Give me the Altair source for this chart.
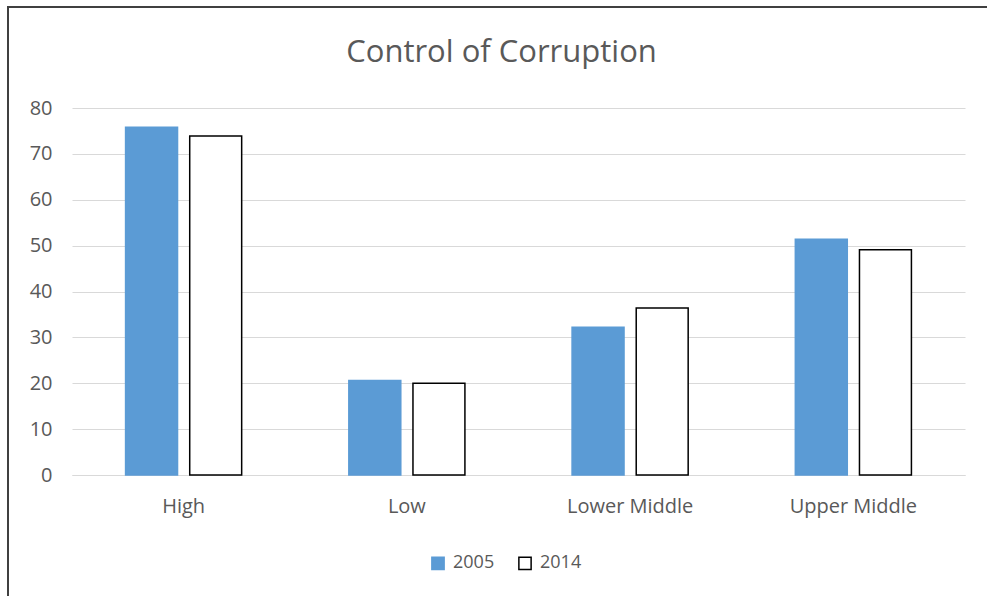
import altair as alt
import pandas as pd

categories = ["High", "Low", "Lower Middle", "Upper Middle"]
years = ["2005", "2014"]
values_2005 = [75.8, 20.6, 32.2, 51.4]
values_2014 = [73.9, 20.0, 36.4, 49.1]

rows = []
for cat, a, b in zip(categories, values_2005, values_2014):
    rows.append({"group": cat, "year": "2005", "value": a})
    rows.append({"group": cat, "year": "2014", "value": b})
df = pd.DataFrame(rows)

FONT = "Open Sans"
TEXT = "#595959"

W, H = 893, 367
LEFT, TOP = 72, 108

legend_opts = dict(orient="none", direction="horizontal",
                   legendX=357, legendY=446,
                   symbolType="square", symbolSize=150,
                   symbolStrokeWidth=1.5,
                   labelFontSize=18, labelColor=TEXT,
                   labelFont=FONT, columnPadding=20,
                   labelOffset=6)

bars = alt.Chart(df).mark_bar(strokeWidth=1.5).encode(
    x=alt.X("group:N", sort=categories, title=None,
            scale=alt.Scale(paddingInner=0.48, paddingOuter=0.24),
            axis=alt.Axis(labelAngle=0, labelFontSize=20, labelColor=TEXT,
                          labelFont=FONT, ticks=False, domain=True,
                          domainColor="#D9D9D9", labelPadding=21)),
    xOffset=alt.XOffset("year:N", sort=years,
                        scale=alt.Scale(paddingInner=0.19, paddingOuter=0)),
    y=alt.Y("value:Q", title=None,
            scale=alt.Scale(domain=[0, 80], nice=False),
            axis=alt.Axis(values=[0, 10, 20, 30, 40, 50, 60, 70, 80],
                          labelFontSize=20, labelColor=TEXT, labelFont=FONT,
                          ticks=False, domain=False, gridColor="#D9D9D9",
                          gridWidth=1, labelPadding=20)),
    color=alt.Color("year:N", sort=years, title=None,
                    scale=alt.Scale(domain=years, range=["#5B9BD5", "#FFFFFF"]),
                    legend=alt.Legend(**legend_opts)),
    stroke=alt.Stroke("year:N", sort=years, title=None,
                      scale=alt.Scale(domain=years, range=["#5B9BD5", "#000000"]),
                      legend=alt.Legend(**legend_opts)),
)

# outer frame around the chart area (open to the right and bottom)
frame = alt.Chart(df).mark_rect(fill=None, stroke="#404040", strokeWidth=1.5).encode(
    x=alt.value(-64), x2=alt.value(940), y=alt.value(-101), y2=alt.value(500)
)

chart = alt.layer(frame, bars).properties(
    width=W, height=H,
    autosize=alt.AutoSizeParams(type="none"),
    padding={"left": LEFT, "top": TOP, "right": 987 - LEFT - W, "bottom": 596 - TOP - H},
    title=alt.Title("Control of Corruption", fontSize=31, font=FONT,
                    fontWeight="normal", color=TEXT, anchor="middle",
                    baseline="alphabetic", offset=0, dx=-17, dy=87),
).configure(background="white").configure_view(stroke=None)

chart.save("out.html", embed_options={"renderer": "svg", "actions": False})
